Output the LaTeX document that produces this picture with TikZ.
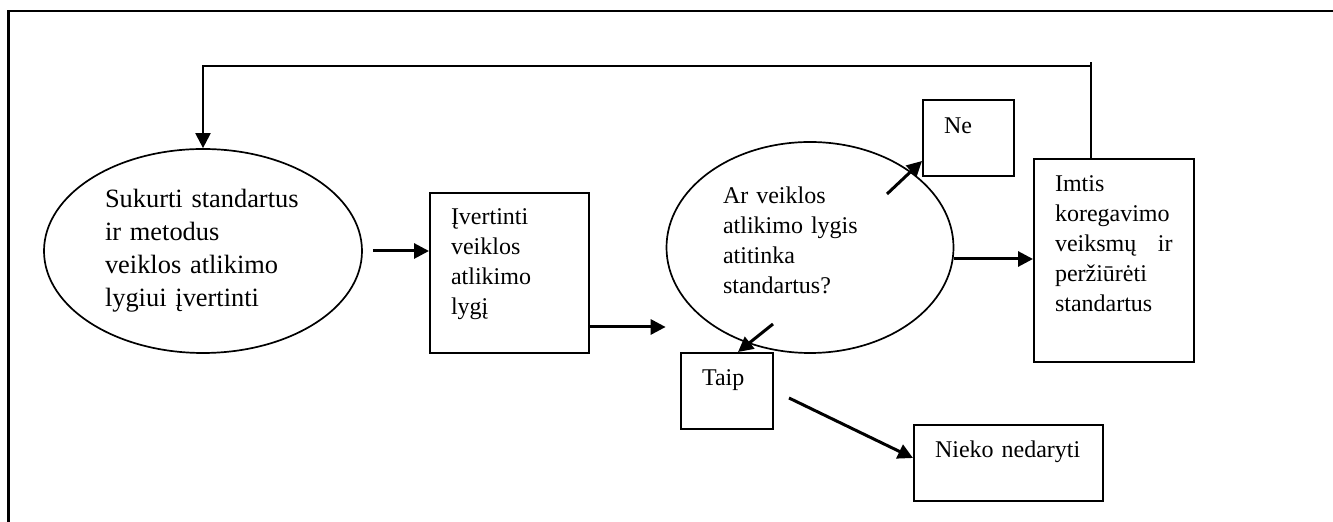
\documentclass[tikz,border=0pt]{standalone}
\usepackage{fontspec}
\setmainfont{Liberation Serif}
\usepackage{tikz}
\usetikzlibrary{shapes,arrows.meta,calc}
\tikzset{>={Triangle[length=7.5pt,width=7.5pt]},x=0.5pt,y=-0.5pt,
  oval/.style={draw,ellipse,line width=0.85pt,inner sep=0pt,align=left,font=\fontsize{12}{15}\selectfont},
  card/.style={draw,rectangle,line width=1pt,inner sep=0pt,align=left,font=\fontsize{12}{15}\selectfont},
  lift/.style={execute at end node={\par\vspace*{#1}}},
  flow/.style={->,line width=1.5pt},
  back/.style={line width=1.1pt}}

\begin{document}
\begin{tikzpicture}
    \useasboundingbox (0,0) rectangle (1333,522);
    \draw[line width=1.3pt] (1333,11) -- (8.5,11) -- (8.5,522);
    \node[oval,minimum width=159pt,minimum height=102pt,text width=98pt,font=\fontsize{13.2}{16.5}\selectfont] (1) at (203,251) {Sukurti standartus\\ir metodus\\veiklos atlikimo\\lygiui įvertinti};
    \node[card,minimum width=79.5pt,minimum height=80pt,text width=58.5pt,lift=9pt] (2) at (509.5,273) {Įvertinti\\veiklos\\atlikimo\\lygį};
    \node[oval,minimum width=143.5pt,minimum height=105.5pt,text width=87pt,lift=7pt] (3) at (810,247.5) {Ar veiklos\\atlikimo lygis\\atitinka\\standartus?};
    \node[card,minimum width=45.5pt,minimum height=38pt,text width=24.5pt,lift=12pt] (4) at (968.5,138) {Ne};
    \node[card,minimum width=79.75pt,minimum height=101.5pt,text width=58.75pt,lift=16.5pt] (5) at (1113.75,260.5) {Imtis\\koregavimo\\veiksmų \hfill ir\\peržiūrėti\\standartus};
    \node[card,minimum width=46pt,minimum height=38pt,text width=25pt,lift=11pt] (6) at (727,391) {Taip};
    \node[card,minimum width=94.5pt,minimum height=38pt,text width=73.5pt,lift=11pt] (7) at (1008.5,463) {Nieko nedaryti};
    \draw[flow] ([xshift=5pt]1.east) -- (1.east -| 2.west);
    \draw[flow] ([yshift=13.5pt]2.south east) coordinate (a) -- (a -| 3.west);
    \draw[flow] ([yshift=-5.75pt]3.east) coordinate (b) -- (b -| 5.west);
    \draw[flow] ($(4.south west)+(-35,17)$) -- ([yshift=8pt]4.south west);
    \draw[flow] ($(6.north east)+(-1,-28)$) -- ([xshift=5.5pt]6.north);
    \draw[flow] ($(6.east)+(15,7)$) -- ([yshift=2.5pt]7.west);
    \draw[back] ([xshift=-11.4pt]5.north) -- ++(0,-96) coordinate (c);
    \draw[back,->] ([yshift=-2pt]c) -| (1.north);
\end{tikzpicture}
\end{document}
